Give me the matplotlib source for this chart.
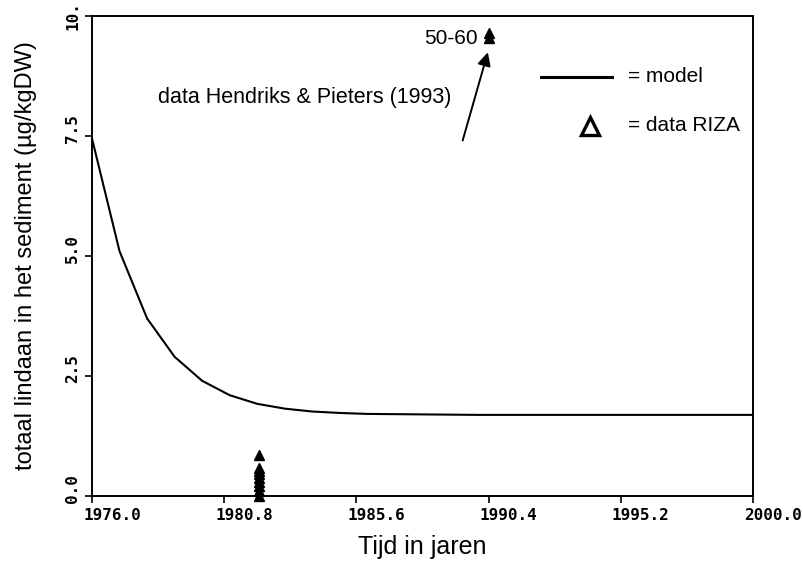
import numpy as np
import matplotlib.pyplot as plt
import matplotlib.transforms as mtransforms
from matplotlib.lines import Line2D

# model curve (jaar, totaal lindaan)
model_jaar = [1976, 1977, 1978, 1979, 1980, 1981, 1982, 1983, 1984, 1985,
              1986, 1988, 1990, 1995, 2000]
model_conc = [7.45, 5.1, 3.7, 2.9, 2.4, 2.1, 1.92, 1.82, 1.76, 1.73,
              1.71, 1.70, 1.69, 1.69, 1.69]

# data RIZA
riza_jaar = [1982.05] * 9
riza_conc = [0.0, 0.1, 0.2, 0.3, 0.38, 0.45, 0.52, 0.58, 0.85]

# data Hendriks & Pieters (1993)
hp_jaar = [1990.4, 1990.4]
hp_conc = [9.55, 9.65]

xticks = [1976.0, 1980.8, 1985.6, 1990.4, 1995.2, 2000.0]
xtick_labels = ['1976.0', '1980.8', '1985.6', '1990.4', '1995.2', '2000.0']
yticks = [0.0, 2.5, 5.0, 7.5, 10.0]
ytick_labels = ['0.0', '2.5', '5.0', '7.5', '10.']

plt.rcParams['font.family'] = ['Liberation Sans', 'DejaVu Sans']

fig = plt.figure(figsize=(8.04, 5.63), dpi=100)
ax = fig.add_axes([0.1144, 0.119, 0.8222, 0.8526])

ax.plot(model_jaar, model_conc, color='black', lw=1.5)
ax.plot(riza_jaar, riza_conc, '^', color='black', ms=7, ls='none', clip_on=False)
ax.plot(hp_jaar, hp_conc, '^', color='black', ms=7, ls='none')

ax.set_xlim(1976, 2000)
ax.set_ylim(0, 10)
ax.set_xticks(xticks)
ax.set_xticklabels(xtick_labels, family='DejaVu Sans Mono', fontsize=11.5,
                   weight='bold')
ax.set_yticks(yticks)
ax.set_yticklabels(ytick_labels, family='DejaVu Sans Mono', fontsize=11.5,
                   weight='bold', rotation=90, va='center')
ax.tick_params(direction='out', length=5, width=1.2)
for s in ax.spines.values():
    s.set_linewidth(1.4)

# tick labels in the original sit slightly off their ticks
dx = mtransforms.ScaledTranslation(20 / 100, 0, fig.dpi_scale_trans)
for lab in ax.get_xticklabels():
    lab.set_transform(lab.get_transform() + dx)
dy = mtransforms.ScaledTranslation(0, 7 / 100, fig.dpi_scale_trans)
for lab in ax.get_yticklabels()[:-1]:
    lab.set_transform(lab.get_transform() + dy)

ax.set_xlabel('Tijd in jaren', fontsize=18, labelpad=9)
ax.set_ylabel('totaal lindaan in het sediment (µg/kgDW)', fontsize=17,
              labelpad=20)

# annotatie
ax.annotate('', xy=(1990.4, 9.3), xytext=(1989.43, 7.35),
            arrowprops=dict(arrowstyle='-|>', color='black', lw=1.4,
                            mutation_scale=20))
ax.text(1989.05, 8.31, 'data Hendriks & Pieters (1993)', fontsize=15.5,
        ha='right', va='center')
ax.text(1990.02, 9.54, '50-60', fontsize=15, ha='right', va='center')

# legenda
ax.add_line(Line2D([1992.3, 1994.88], [8.73, 8.73], color='black', lw=2.2))
ax.text(1995.45, 8.73, '= model', fontsize=15, va='center')
ax.plot([1994.08], [7.71], '^', mfc='none', mec='black', mew=2.4, ms=13)
ax.text(1995.45, 7.71, '= data RIZA', fontsize=15, va='center')

fig.savefig('out.png', dpi=100)
